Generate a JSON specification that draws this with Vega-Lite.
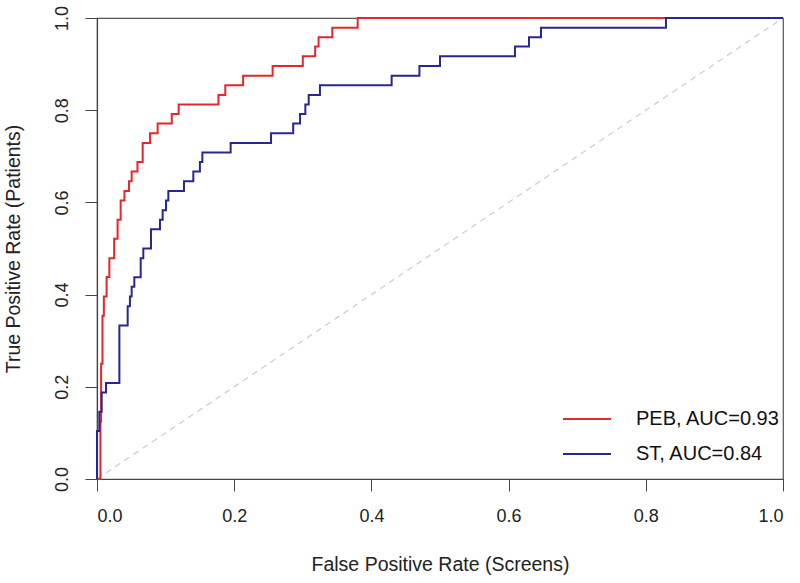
{
  "$schema": "https://vega.github.io/schema/vega-lite/v6.json",
  "width": 686,
  "height": 461,
  "autosize": {"type": "none"},
  "padding": {"left": 97, "top": 18, "right": 17, "bottom": 104},
  "background": "white",
  "config": {
    "view": {"stroke": "#555555", "strokeWidth": 1.2},
    "font": "Liberation Sans",
    "axis": {
      "grid": false,
      "domainColor": "#444444",
      "domainWidth": 1.2,
      "tickColor": "#444444",
      "tickSize": 12,
      "tickWidth": 1,
      "labelFont": "Liberation Sans",
      "labelFontSize": 18,
      "labelColor": "#222222",
      "titleFont": "Liberation Sans",
      "titleFontSize": 19.5,
      "titleFontWeight": "normal",
      "titleColor": "#222222"
    }
  },
  "datasets": {
    "diag": [{"fpr": 0, "tpr": 0}, {"fpr": 1, "tpr": 1}],
    "roc": [
      {"model": "PEB, AUC=0.93", "i": 0, "fpr": 0, "tpr": 0},
      {"model": "PEB, AUC=0.93", "i": 1, "fpr": 0.005, "tpr": 0.125},
      {"model": "PEB, AUC=0.93", "i": 2, "fpr": 0.006, "tpr": 0.25},
      {"model": "PEB, AUC=0.93", "i": 3, "fpr": 0.008, "tpr": 0.354},
      {"model": "PEB, AUC=0.93", "i": 4, "fpr": 0.010, "tpr": 0.396},
      {"model": "PEB, AUC=0.93", "i": 5, "fpr": 0.014, "tpr": 0.438},
      {"model": "PEB, AUC=0.93", "i": 6, "fpr": 0.018, "tpr": 0.479},
      {"model": "PEB, AUC=0.93", "i": 7, "fpr": 0.025, "tpr": 0.521},
      {"model": "PEB, AUC=0.93", "i": 8, "fpr": 0.030, "tpr": 0.5625},
      {"model": "PEB, AUC=0.93", "i": 9, "fpr": 0.0345, "tpr": 0.604},
      {"model": "PEB, AUC=0.93", "i": 10, "fpr": 0.040, "tpr": 0.625},
      {"model": "PEB, AUC=0.93", "i": 11, "fpr": 0.0466, "tpr": 0.646},
      {"model": "PEB, AUC=0.93", "i": 12, "fpr": 0.0505, "tpr": 0.667},
      {"model": "PEB, AUC=0.93", "i": 13, "fpr": 0.059, "tpr": 0.6875},
      {"model": "PEB, AUC=0.93", "i": 14, "fpr": 0.0666, "tpr": 0.729},
      {"model": "PEB, AUC=0.93", "i": 15, "fpr": 0.0773, "tpr": 0.75},
      {"model": "PEB, AUC=0.93", "i": 16, "fpr": 0.0884, "tpr": 0.771},
      {"model": "PEB, AUC=0.93", "i": 17, "fpr": 0.109, "tpr": 0.792},
      {"model": "PEB, AUC=0.93", "i": 18, "fpr": 0.119, "tpr": 0.8125},
      {"model": "PEB, AUC=0.93", "i": 19, "fpr": 0.177, "tpr": 0.833},
      {"model": "PEB, AUC=0.93", "i": 20, "fpr": 0.187, "tpr": 0.854},
      {"model": "PEB, AUC=0.93", "i": 21, "fpr": 0.213, "tpr": 0.875},
      {"model": "PEB, AUC=0.93", "i": 22, "fpr": 0.256, "tpr": 0.896},
      {"model": "PEB, AUC=0.93", "i": 23, "fpr": 0.300, "tpr": 0.917},
      {"model": "PEB, AUC=0.93", "i": 24, "fpr": 0.318, "tpr": 0.938},
      {"model": "PEB, AUC=0.93", "i": 25, "fpr": 0.323, "tpr": 0.958},
      {"model": "PEB, AUC=0.93", "i": 26, "fpr": 0.343, "tpr": 0.979},
      {"model": "PEB, AUC=0.93", "i": 27, "fpr": 0.380, "tpr": 1.0},
      {"model": "PEB, AUC=0.93", "i": 28, "fpr": 1.0, "tpr": 1.0},
      {"model": "ST, AUC=0.84", "i": 0, "fpr": 0, "tpr": 0},
      {"model": "ST, AUC=0.84", "i": 1, "fpr": 0, "tpr": 0.104},
      {"model": "ST, AUC=0.84", "i": 2, "fpr": 0.0034, "tpr": 0.146},
      {"model": "ST, AUC=0.84", "i": 3, "fpr": 0.0068, "tpr": 0.1875},
      {"model": "ST, AUC=0.84", "i": 4, "fpr": 0.0131, "tpr": 0.208},
      {"model": "ST, AUC=0.84", "i": 5, "fpr": 0.0326, "tpr": 0.333},
      {"model": "ST, AUC=0.84", "i": 6, "fpr": 0.0447, "tpr": 0.375},
      {"model": "ST, AUC=0.84", "i": 7, "fpr": 0.048, "tpr": 0.396},
      {"model": "ST, AUC=0.84", "i": 8, "fpr": 0.0505, "tpr": 0.417},
      {"model": "ST, AUC=0.84", "i": 9, "fpr": 0.0544, "tpr": 0.4375},
      {"model": "ST, AUC=0.84", "i": 10, "fpr": 0.0637, "tpr": 0.479},
      {"model": "ST, AUC=0.84", "i": 11, "fpr": 0.0675, "tpr": 0.5},
      {"model": "ST, AUC=0.84", "i": 12, "fpr": 0.0787, "tpr": 0.542},
      {"model": "ST, AUC=0.84", "i": 13, "fpr": 0.0918, "tpr": 0.5625},
      {"model": "ST, AUC=0.84", "i": 14, "fpr": 0.0957, "tpr": 0.583},
      {"model": "ST, AUC=0.84", "i": 15, "fpr": 0.1006, "tpr": 0.604},
      {"model": "ST, AUC=0.84", "i": 16, "fpr": 0.104, "tpr": 0.625},
      {"model": "ST, AUC=0.84", "i": 17, "fpr": 0.1268, "tpr": 0.646},
      {"model": "ST, AUC=0.84", "i": 18, "fpr": 0.1404, "tpr": 0.667},
      {"model": "ST, AUC=0.84", "i": 19, "fpr": 0.150, "tpr": 0.6875},
      {"model": "ST, AUC=0.84", "i": 20, "fpr": 0.1536, "tpr": 0.708},
      {"model": "ST, AUC=0.84", "i": 21, "fpr": 0.1948, "tpr": 0.729},
      {"model": "ST, AUC=0.84", "i": 22, "fpr": 0.2537, "tpr": 0.75},
      {"model": "ST, AUC=0.84", "i": 23, "fpr": 0.286, "tpr": 0.771},
      {"model": "ST, AUC=0.84", "i": 24, "fpr": 0.296, "tpr": 0.792},
      {"model": "ST, AUC=0.84", "i": 25, "fpr": 0.3037, "tpr": 0.8125},
      {"model": "ST, AUC=0.84", "i": 26, "fpr": 0.3086, "tpr": 0.833},
      {"model": "ST, AUC=0.84", "i": 27, "fpr": 0.325, "tpr": 0.854},
      {"model": "ST, AUC=0.84", "i": 28, "fpr": 0.4295, "tpr": 0.875},
      {"model": "ST, AUC=0.84", "i": 29, "fpr": 0.470, "tpr": 0.896},
      {"model": "ST, AUC=0.84", "i": 30, "fpr": 0.500, "tpr": 0.917},
      {"model": "ST, AUC=0.84", "i": 31, "fpr": 0.6093, "tpr": 0.938},
      {"model": "ST, AUC=0.84", "i": 32, "fpr": 0.6297, "tpr": 0.958},
      {"model": "ST, AUC=0.84", "i": 33, "fpr": 0.6472, "tpr": 0.979},
      {"model": "ST, AUC=0.84", "i": 34, "fpr": 0.8294, "tpr": 1.0},
      {"model": "ST, AUC=0.84", "i": 35, "fpr": 1.0, "tpr": 1.0}
    ]
  },
  "layer": [
    {
      "data": {"name": "diag"},
      "mark": {"type": "line", "color": "#cfcfcf", "strokeWidth": 1.3, "strokeDash": [6, 5]},
      "encoding": {
        "x": {"field": "fpr", "type": "quantitative", "scale": {"domain": [0, 1], "nice": false, "zero": false},
          "axis": {"values": [0, 0.2, 0.4, 0.6, 0.8, 1.0], "format": ".1f", "title": "False Positive Rate (Screens)", "labelPadding": 16, "titlePadding": 30}},
        "y": {"field": "tpr", "type": "quantitative", "scale": {"domain": [0, 1], "nice": false, "zero": false},
          "axis": {"values": [0, 0.2, 0.4, 0.6, 0.8, 1.0], "format": ".1f", "title": "True Positive Rate (Patients)", "labelAngle": -90, "labelAlign": "center", "labelBaseline": "bottom", "labelPadding": 14, "titlePadding": 30}}
      }
    },
    {
      "data": {"name": "roc"},
      "mark": {"type": "line", "interpolate": "step-after", "strokeWidth": 2},
      "encoding": {
        "x": {"field": "fpr", "type": "quantitative"},
        "y": {"field": "tpr", "type": "quantitative"},
        "order": {"field": "i", "type": "quantitative"},
        "color": {
          "field": "model", "type": "nominal",
          "scale": {"domain": ["PEB, AUC=0.93", "ST, AUC=0.84"], "range": ["#e3272d", "#27288f"]},
          "legend": {
            "title": null,
            "orient": "none",
            "legendX": 465,
            "legendY": 376,
            "symbolType": "stroke",
            "symbolSize": 2304,
            "symbolStrokeWidth": 2,
            "labelFontSize": 20,
            "labelFont": "Liberation Sans",
            "labelColor": "#111111",
            "labelOffset": 24,
            "rowPadding": -20
          }
        }
      }
    }
  ]
}
